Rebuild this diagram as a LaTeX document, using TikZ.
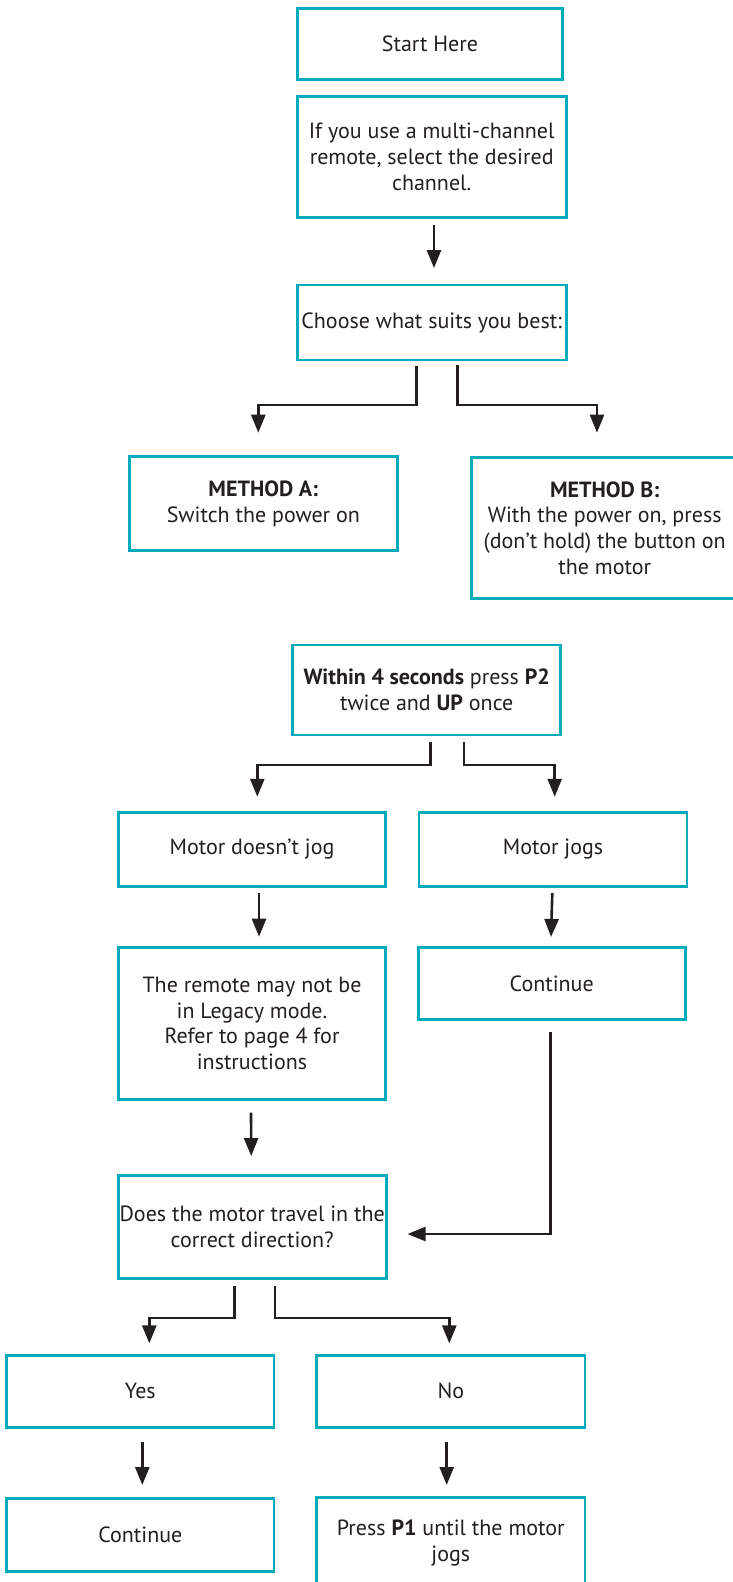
\documentclass[tikz,border=0pt]{standalone}
\usepackage{fontspec}
\setmainfont{PT Sans}
\usetikzlibrary{arrows.meta,calc}
\definecolor{boxteal}{RGB}{0,172,188}
\definecolor{ink}{RGB}{35,31,32}
\begin{document}
\begin{tikzpicture}[x=1pt,y=-1pt,
  box/.style={draw=boxteal, line width=2.9pt, inner sep=0pt, outer sep=0pt,
    align=center, text=ink, font=\fontsize{22}{25.7}\selectfont},
  arr/.style={draw=ink, line width=2.6pt, -{Triangle[length=18pt,width=14pt]}}
]
\useasboundingbox (0,0) rectangle (733,1582);
\fill[white] (0,0) rectangle (733,1582);

\node[box, minimum width=265.4pt, minimum height=71.3pt] (start) at (430,43.7) {Start Here};
\node[box, minimum width=268.7pt, minimum height=121.4pt] (multi) at (431.7,157) {If you use a multi-channel\\remote, select the desired\\channel.};
\node[box, minimum width=269pt, minimum height=75pt] (choose) at (431.7,322.5) {Choose what suits you best:};
\node[box, minimum width=268pt, minimum height=94pt] (methA) at (263.3,503.7) {\textbf{METHOD A:}\\Switch the power on};
\node[box, minimum width=266.7pt, minimum height=141.4pt] (methB) at (604.7,528) {\textbf{METHOD B:}\\With the power on, press\\(don't hold) the button on\\the motor};
\node[box, minimum width=268pt, minimum height=90pt] (within) at (426.7,690) {\textbf{Within 4 seconds} press \textbf{P2}\\twice and \textbf{UP} once};
\node[box, minimum width=267.4pt, minimum height=73.7pt] (nojog) at (252,849.2) {Motor doesn't jog};
\node[box, minimum width=268pt, minimum height=73.7pt] (jogs) at (553,849.2) {Motor jogs};
\node[box, minimum width=267.4pt, minimum height=152pt] (remote) at (252,1023.3) {The remote may not be\\in Legacy mode.\\Refer to page 4 for\\instructions};
\node[box, minimum width=267.3pt, minimum height=72pt] (cont1) at (551.7,983.3) {Continue};
\node[box, minimum width=267.7pt, minimum height=103.3pt] (does) at (252.2,1226.7) {Does the motor travel in the\\correct direction?};
\node[box, minimum width=267.3pt, minimum height=72.3pt] (yes) at (140.3,1391.2) {Yes};
\node[box, minimum width=268.3pt, minimum height=72.3pt] (no) at (450.8,1391.2) {No};
\node[box, minimum width=267.3pt, minimum height=73pt] (cont2) at (140.3,1535.2) {Continue};
\node[box, minimum width=268.3pt, minimum height=92pt] (press) at (450.8,1543.3) {Press \textbf{P1} until the motor\\jogs};

\draw[arr] ($(multi.south)+(2.3,7.3)$) -- ($(choose.north)+(2.3,-17)$);
\draw[arr] ($(choose.south)+(-15,5.7)$) -- ++(0,39.3) -| ($(methA.north)+(-5,-24)$);
\draw[arr] ($(choose.south)+(25.6,5)$) -- ++(0,40) -| ($(methB.north)+(-7.7,-24.6)$);
\draw[arr] ($(within.south)+(4,7.3)$) -- ++(0,22.7) -| ($(nojog.north)+(5.3,-15.6)$);
\draw[arr] ($(within.south)+(37.3,7.3)$) -- ++(0,22.7) -| ($(jogs.north)+(1.7,-15.6)$);
\draw[arr] ($(nojog.south)+(7,7.3)$) -- ($(remote.north)+(7,-10.6)$);
\draw[arr] ($(jogs.south)+(-0.7,7)$) -- ($(cont1.north)+(-0.7,-10.3)$);
\draw[arr] ($(remote.south)+(-1,13.4)$) -- ($(does.north)+(-1,-19)$);
\draw[arr] ($(cont1.south)+(-1,13)$) |- ($(does.east)+(21.5,7.3)$);
\draw[arr] ($(does.south)+(-17.9,7.7)$) -- ++(0,32) -| ($(yes.north)+(9,-11.7)$);
\draw[arr] ($(does.south)+(22.8,7.7)$) -- ++(0,32) -| ($(no.north)+(-1.5,-11.7)$);
\draw[arr] ($(yes.south)+(2,14.4)$) -- ($(cont2.north)+(2,-13.7)$);
\draw[arr] ($(no.south)+(-4.1,14.4)$) -- ($(press.north)+(-4.1,-12.3)$);
\end{tikzpicture}
\end{document}
